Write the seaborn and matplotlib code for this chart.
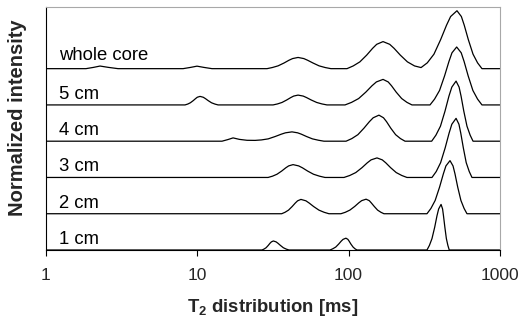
import numpy as np
import pandas as pd
import matplotlib
matplotlib.use("Agg")
import matplotlib.pyplot as plt
import seaborn as sns

# ---- data: log10(T2 / ms) and intensity of each sample ----
samples = ["1 cm", "2 cm", "3 cm", "4 cm", "5 cm", "whole core"]
offsets = [0, 1, 2, 3, 4, 5]

wc_logt2 = [0.000, 0.267, 0.318, 0.360, 0.414, 0.479,
            0.908, 0.958, 1.000, 1.045, 1.099,
            1.462, 1.497, 1.535, 1.574, 1.607, 1.631, 1.667, 1.705, 1.730, 1.766, 1.806, 1.846, 1.884,
            1.990, 2.031, 2.075, 2.120, 2.159, 2.186, 2.228, 2.272, 2.301, 2.342, 2.389, 2.436, 2.479,
            2.520, 2.564, 2.608, 2.647, 2.674, 2.716, 2.745, 2.764, 2.791, 2.822, 2.852, 2.881, 3.000]
wc_int = [0, 0, .036, .072, .036, 0,
          0, .035, .069, .035, 0,
          0, .031, .077, .155, .232, .278, .309, .278, .232, .155, .077, .031, 0,
          0, .075, .187, .373, .560, .671, .746, .671, .560, .373, .187, .075, .03,
          .160, .399, .799, 1.198, 1.437, 1.597, 1.437, 1.198, .799, .399, .160, 0, 0]

c5_logt2 = [0.000, 0.921, 0.939, 0.956, 0.975, 0.991, 1.002, 1.020, 1.041, 1.055, 1.074, 1.096, 1.118, 1.139,
            1.502, 1.531, 1.561, 1.592, 1.619, 1.638, 1.667, 1.701, 1.723, 1.754, 1.790, 1.825, 1.858,
            1.977, 2.020, 2.067, 2.114, 2.155, 2.184, 2.228, 2.262, 2.284, 2.315, 2.351, 2.386, 2.419,
            2.538, 2.568, 2.601, 2.634, 2.663, 2.683, 2.714, 2.744, 2.763, 2.790, 2.821, 2.852, 2.881, 3.000]
c5_int = [0, 0, .024, .059, .118, .176, .212, .235, .212, .176, .118, .059, .024, 0,
          0, .027, .068, .136, .203, .244, .271, .244, .203, .136, .068, .027, 0,
          0, .070, .176, .352, .528, .634, .704, .634, .528, .352, .176, .070, 0,
          0, .160, .399, .799, 1.198, 1.437, 1.597, 1.437, 1.198, .799, .399, .160, 0, 0]

c4_logt2 = [0.000, 1.165, 1.205, 1.238, 1.280, 1.330, 1.383,
            1.425, 1.470, 1.516, 1.556, 1.584, 1.627, 1.664, 1.689, 1.723, 1.762, 1.802, 1.838,
            1.984, 2.022, 2.062, 2.102, 2.138, 2.163, 2.201, 2.231, 2.251, 2.279, 2.311, 2.343, 2.373,
            2.549, 2.577, 2.607, 2.637, 2.663, 2.682, 2.710, 2.730, 2.743, 2.761, 2.782, 2.803, 2.822, 3.000]
c4_int = [0, 0, .046, .091, .050, .025, .022,
          .035, .064, .129, .193, .231, .257, .231, .193, .129, .064, .026, 0,
          0, .072, .180, .359, .539, .646, .718, .646, .539, .359, .180, .072, 0,
          0, .166, .414, .829, 1.243, 1.491, 1.657, 1.491, 1.243, .829, .414, .166, 0, 0]

c3_logt2 = [0.000, 1.469, 1.498, 1.528, 1.559, 1.586, 1.605, 1.634, 1.671, 1.696, 1.730, 1.769, 1.809, 1.845,
            1.970, 2.008, 2.048, 2.089, 2.124, 2.149, 2.188, 2.223, 2.246, 2.278, 2.315, 2.352, 2.386,
            2.551, 2.579, 2.608, 2.638, 2.664, 2.682, 2.710, 2.729, 2.741, 2.758, 2.777, 2.797, 2.815, 3.000]
c3_int = [0, 0, .035, .089, .177, .266, .319, .354, .319, .266, .177, .089, .035, 0,
          0, .054, .135, .270, .404, .485, .539, .485, .404, .270, .135, .054, 0,
          0, .163, .408, .815, 1.223, 1.467, 1.630, 1.467, 1.223, .815, .408, .163, 0, 0]

c2_logt2 = [0.000, 1.559, 1.581, 1.604, 1.628, 1.649, 1.664, 1.686, 1.719, 1.740, 1.770, 1.805, 1.839, 1.871,
            1.950, 1.979, 2.009, 2.041, 2.068, 2.087, 2.116, 2.137, 2.150, 2.170, 2.192, 2.214, 2.234,
            2.518, 2.544, 2.572, 2.601, 2.626, 2.643, 2.670, 2.690, 2.703, 2.721, 2.742, 2.763, 2.782, 3.000]
c2_int = [0, 0, .040, .099, .198, .296, .356, .395, .356, .296, .198, .099, .040, 0,
          0, .040, .100, .201, .301, .361, .401, .361, .301, .201, .100, .040, 0,
          0, .146, .366, .732, 1.098, 1.318, 1.464, 1.318, 1.098, .732, .366, .146, 0, 0]

c1_logt2 = [0.000, 1.429, 1.442, 1.456, 1.470, 1.482, 1.491, 1.504, 1.522, 1.534, 1.551, 1.570, 1.589, 1.607,
            1.878, 1.896, 1.916, 1.935, 1.952, 1.964, 1.983, 1.996, 2.004, 2.016, 2.030, 2.043, 2.056,
            2.518, 2.534, 2.551, 2.569, 2.584, 2.595, 2.611, 2.621, 2.627, 2.636, 2.646, 2.656, 2.665, 3.000]
c1_int = [0, 0, .025, .062, .125, .187, .224, .249, .224, .187, .125, .062, .025, 0,
          0, .033, .082, .163, .245, .293, .326, .293, .245, .163, .082, .033, 0,
          0, .126, .314, .629, .943, 1.131, 1.257, 1.131, .943, .629, .314, .126, 0, 0]

xticks = [1, 10, 100, 1000]
xticklabels = ["1", "10", "100", "1000"]

# ---- build long table ----
curves = {
    "1 cm": (c1_logt2, c1_int),
    "2 cm": (c2_logt2, c2_int),
    "3 cm": (c3_logt2, c3_int),
    "4 cm": (c4_logt2, c4_int),
    "5 cm": (c5_logt2, c5_int),
    "whole core": (wc_logt2, wc_int),
}
frames = []
for name, off in zip(samples, offsets):
    lx, yi = curves[name]
    frames.append(pd.DataFrame({"sample": name,
                                "T2": 10 ** np.asarray(lx, dtype=float),
                                "y": np.asarray(yi, dtype=float) + off}))
df = pd.concat(frames, ignore_index=True)

sns.set_style("white")
plt.rcParams["font.family"] = ["Liberation Sans", "DejaVu Sans"]
plt.rcParams["mathtext.fontset"] = "custom"
plt.rcParams["mathtext.rm"] = "Liberation Sans"
plt.rcParams["mathtext.bf"] = "Liberation Sans:bold"

fig = plt.figure(figsize=(5.21, 3.20), dpi=100)
ax = fig.add_axes([45.5 / 521, 70 / 320, 454.5 / 521, 243 / 320])

sns.lineplot(data=df, x="T2", y="y", units="sample", estimator=None, sort=False,
             color="black", linewidth=0.9, ax=ax, legend=False)

ax.set_xscale("log")
ax.set_xlim(1, 1000)
ax.set_ylim(0, 6.70)
ax.set_xticks(xticks)
ax.set_xticklabels(xticklabels)
ax.xaxis.set_minor_locator(matplotlib.ticker.NullLocator())
ax.set_yticks([])
ax.tick_params(axis="x", which="major", direction="out", length=4, width=0.8,
               color="black", labelsize=12.5, pad=9, bottom=True)

for side in ["left", "bottom"]:
    ax.spines[side].set_color("black")
    ax.spines[side].set_linewidth(0.8)
for side in ["top", "right"]:
    ax.spines[side].set_color("#a8a8a8")
    ax.spines[side].set_linewidth(0.8)

for name, off in zip(samples, offsets):
    dy = 0.24 if name == "whole core" else 0.17
    ax.text(1.22, off + dy, name, fontsize=13.3, va="baseline", ha="left", color="black")

ax.set_xlabel(r"$\mathbf{T_2}$ distribution [ms]", fontsize=13.3, fontweight="bold")
ax.xaxis.set_label_coords(0.5, (250 - 307) / 243)
ax.xaxis.label.set_verticalalignment("center")
ax.set_ylabel("Normalized intensity", fontsize=14.5, fontweight="bold")
ax.yaxis.set_label_coords((18 - 45.5) / 454.5, 0.545)
ax.yaxis.label.set_verticalalignment("center")

fig.savefig("out.png", dpi=100)
